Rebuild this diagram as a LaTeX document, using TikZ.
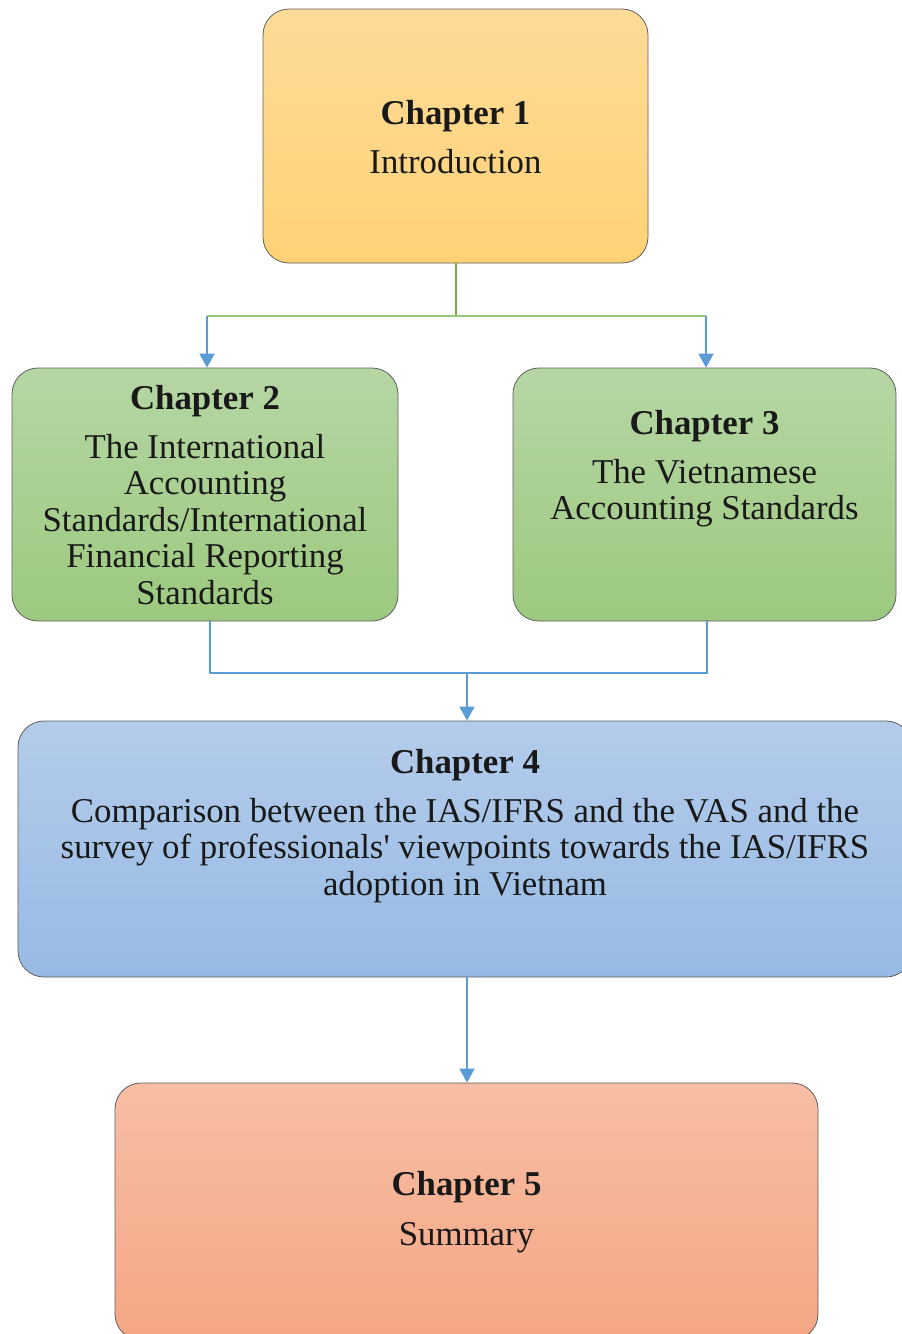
\documentclass[tikz,border=0pt]{standalone}
\usepackage{fontspec}
\setmainfont{Liberation Serif}[Ligatures=TeXOff]
\usetikzlibrary{arrows.meta}
\definecolor{orTop}{RGB}{253,219,152}
\definecolor{orBot}{RGB}{255,210,118}
\definecolor{grTop}{RGB}{182,214,164}
\definecolor{grBot}{RGB}{156,201,127}
\definecolor{blTop}{RGB}{180,204,235}
\definecolor{blBot}{RGB}{151,186,228}
\definecolor{saTop}{RGB}{247,190,164}
\definecolor{saBot}{RGB}{245,166,132}
\definecolor{edge}{RGB}{95,95,95}
\definecolor{lnGreen}{RGB}{112,173,71}
\definecolor{lnGreenL}{RGB}{150,200,120}
\definecolor{lnBlue}{RGB}{91,155,213}
\definecolor{txt}{RGB}{25,25,25}
\tikzset{
  chapbox/.style={draw=edge, line width=0.8pt, rounded corners=26pt, inner sep=0pt},
  chaptext/.style={align=center, text=txt, inner sep=0pt,
    font=\fontsize{34.8}{36.5}\selectfont},
  greenline/.style={draw=lnGreen, line width=2pt},
  greenlineL/.style={draw=lnGreenL, line width=1.6pt},
  blueline/.style={draw=lnBlue, line width=1.5pt},
  bluearrow/.style={blueline, -{Triangle[width=15pt,length=14pt]}},
}
\begin{document}
\begin{tikzpicture}[x=1pt,y=-1pt]
\useasboundingbox (0,0) rectangle (902,1334);
\fill[white] (0,0) rectangle (902,1334);

% chapter boxes
\node[chapbox, top color=orTop, bottom color=orBot, minimum width=385pt, minimum height=254pt] (c1) at (455.5,136) {};
\node[chapbox, top color=grTop, bottom color=grBot, minimum width=386pt, minimum height=253pt] (c2) at (205,494.5) {};
\node[chapbox, top color=grTop, bottom color=grBot, minimum width=383pt, minimum height=253pt] (c3) at (704.5,494.5) {};
\node[chapbox, top color=blTop, bottom color=blBot, minimum width=894pt, minimum height=256pt] (c4) at (465,849) {};
\node[chapbox, top color=saTop, bottom color=saBot, minimum width=703pt, minimum height=257pt] (c5) at (466.5,1211.5) {};

% chapter titles and contents
\node[chaptext] (t1) at (455.5,137) {\textbf{Chapter 1}\\[13pt]Introduction};
\node[chaptext] (t2) at (205,495) {\textbf{Chapter 2}\\[12pt]The International\\Accounting\\Standards/International\\Financial Reporting\\Standards};
\node[chaptext] (t3) at (704.5,469) {\textbf{Chapter 3}\\[12pt]The Vietnamese\\Accounting Standards};
\node[chaptext] (t4) at (465,826) {\textbf{Chapter 4}\\[12pt]Comparison between the IAS/IFRS and the VAS and the\\survey of professionals' viewpoints towards the IAS/IFRS\\adoption in Vietnam};
\node[chaptext] (t5) at (466.5,1212) {\textbf{Chapter 5}\\[13pt]Summary};

% branch points
\coordinate (j1) at (456,316);
\coordinate (j1l) at (207,316);
\coordinate (j1r) at (706,316);
\coordinate (j2) at (467,673);
\coordinate (j2l) at (210,673);
\coordinate (j2r) at (707,673);

% chapter 1 to chapters 2 and 3
\draw[greenline] (c1.south -| j1) -- (j1);
\draw[greenlineL] (j1l) -- (j1r);
\draw[bluearrow] (j1l) -- (c2.north -| j1l);
\draw[bluearrow] (j1r) -- (c3.north -| j1r);

% chapters 2 and 3 to chapter 4
\draw[blueline] (c2.south -| j2l) -- (j2l) -- (j2r) -- (c3.south -| j2r);
\draw[bluearrow] (j2) -- (c4.north -| j2);

% chapter 4 to chapter 5
\draw[bluearrow] (c4.south -| j2) -- (c5.north -| j2);
\end{tikzpicture}
\end{document}
